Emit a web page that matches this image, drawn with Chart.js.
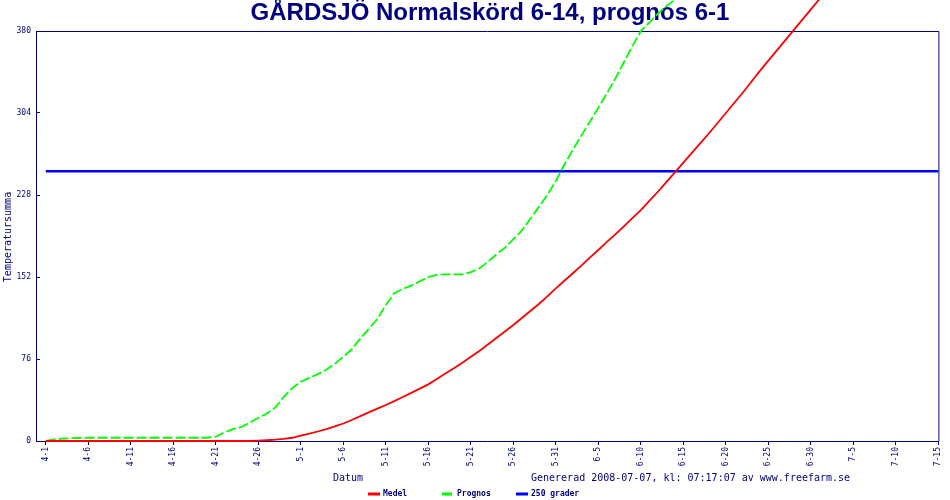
<!DOCTYPE html>
<html lang="sv">
<head>
  <meta charset="UTF-8">
  <title>GÅRDSJÖ Normalskörd</title>
  <style>
    html, body {
      margin: 0;
      padding: 0;
      background: #fff;
    }
    #chartWrapper {
      position: relative;
      width: 950px;
      height: 500px;
    }
  </style>
</head>
<body>
  <div id="chartWrapper">
    <canvas id="tempChart"></canvas>
  </div>

  <script src="https://cdn.jsdelivr.net/npm/chart.js/dist/chart.umd.min.js"></script>
  <script>
    // x = dagar efter 4-1 (dag 0 = 4-1, dag 105 = 7-15)
    const tickLabels = ['4-1', '4-6', '4-11', '4-16', '4-21', '4-26', '5-1', '5-6', '5-11', '5-16', '5-21',
      '5-26', '5-31', '6-5', '6-10', '6-15', '6-20', '6-25', '6-30', '7-5', '7-10', '7-15'];
    const yTicks = [0, 76, 152, 228, 304, 380];

    // Medel, ett värde per dag från 4-1
    const medel = [
      0, 0, 0, 0, 0, 0, 0, 0, 0, 0, 0, 0, 0, 0, 0, 0, 0, 0, 0, 0, 0, 0, 0, 0, 0,
      0.3, 0.7, 1.2, 2, 3, 5, 6.8, 8.8, 11, 13.5, 16.2, 19.5, 23, 26.5, 30,
      33.4, 37, 40.8, 44.6, 48.5, 52.5, 57.5, 62.5, 67.5, 72.5, 78, 83.5, 89.5, 95.5, 101.5,
      107.5, 114, 120.5, 127, 134, 141.5, 148.5, 155.5, 162.5, 170, 177, 184.5, 191.5, 199, 206.5,
      214, 222.5, 231, 240, 249, 258, 267, 276, 285, 294.5, 304, 313.5, 323, 333, 343,
      352.5, 362, 371.5, 381, 390.5, 400, 409.5, 419, 428.5
    ];

    // Prognos, ett värde per dag från 4-1
    const prognos = [
      0, 1.5, 2.2, 2.6, 2.8, 3, 3, 3, 3, 3, 3, 3, 3, 3, 3, 3, 3, 3, 3, 3,
      4, 8, 11, 13, 17, 21.5, 25.5, 31, 41, 49, 55, 58.5, 62, 66, 71.5, 78, 85, 95, 104, 113,
      126, 137, 141, 144, 148, 152, 154, 154.5, 154.5, 154.5, 156.5, 160, 166, 173, 179,
      187, 195, 206, 217, 228, 241, 256, 270, 283, 296, 309, 322, 336, 351, 366,
      380, 388, 396, 403, 409, 415
    ];

    // 250 grader, från 4-1 till 7-15
    const graderDagar = [0, 105];
    const graderNiva = 250;

    const TITEL = 'GÅRDSJÖ Normalskörd 6-14, prognos 6-1';
    const FOT = 'Genererad 2008-07-07, kl: 07:17:07 av www.freefarm.se';
    const NAVY = '#000080';
    const MONO = '"DejaVu Sans Mono", "Liberation Mono", monospace';

    const toPoints = arr => arr.map((v, i) => ({ x: i, y: v }));

    // ram, titel, axeltexter och förklaring
    const extraTexts = {
      id: 'extraTexts',
      beforeDatasetsDraw(chart) {
        const { ctx, chartArea: a } = chart;
        ctx.save();
        ctx.strokeStyle = NAVY;
        ctx.lineWidth = 1;
        ctx.beginPath();
        ctx.moveTo(a.left, a.top + 0.5);
        ctx.lineTo(a.right + 0.5, a.top + 0.5);
        ctx.lineTo(a.right + 0.5, a.bottom);
        ctx.stroke();

        ctx.fillStyle = NAVY;
        ctx.font = 'bold 24px "Liberation Sans", Arial, sans-serif';
        ctx.textAlign = 'center';
        ctx.textBaseline = 'alphabetic';
        ctx.fillText(TITEL, 490, 20);
        ctx.restore();
      },
      afterDraw(chart) {
        const { ctx } = chart;
        ctx.save();
        ctx.fillStyle = NAVY;
        ctx.font = '10px ' + MONO;
        ctx.textBaseline = 'middle';
        ctx.textAlign = 'left';
        ctx.fillText('Datum', 333, 478);
        ctx.fillText(FOT, 531, 478);

        ctx.save();
        ctx.translate(8, 237);
        ctx.rotate(-Math.PI / 2);
        ctx.textAlign = 'center';
        ctx.fillText('Temperatursumma', 0, 0);
        ctx.restore();

        // förklaring
        ctx.font = 'bold 8px ' + MONO;
        chart.data.datasets.forEach((ds, i) => {
          const x = 368 + i * 74;
          const y = 494;
          ctx.strokeStyle = ds.borderColor;
          ctx.lineWidth = 3;
          ctx.setLineDash(ds.borderDash || []);
          ctx.beginPath();
          ctx.moveTo(x, y);
          ctx.lineTo(x + 12, y);
          ctx.stroke();
          ctx.setLineDash([]);
          ctx.fillStyle = NAVY;
          ctx.fillText(ds.label, x + 15, y);
        });
        ctx.restore();
      }
    };

    const ctx = document.getElementById('tempChart').getContext('2d');
    new Chart(ctx, {
      type: 'line',
      data: {
        datasets: [
          {
            label: 'Medel',
            data: toPoints(medel),
            borderColor: '#ff0000',
            backgroundColor: '#ff0000',
            borderWidth: 1.8,
            pointRadius: 0,
            clip: false
          },
          {
            label: 'Prognos',
            data: toPoints(prognos),
            borderColor: '#00ff00',
            backgroundColor: '#00ff00',
            borderWidth: 1.8,
            borderDash: [10, 3],
            pointRadius: 0,
            clip: false
          },
          {
            label: '250 grader',
            data: graderDagar.map(d => ({ x: d, y: graderNiva })),
            borderColor: '#0000ff',
            backgroundColor: '#0000ff',
            borderWidth: 2.5,
            pointRadius: 0,
            clip: false
          }
        ]
      },
      options: {
        responsive: true,
        maintainAspectRatio: false,
        animation: false,
        layout: { padding: { left: 0, top: 31, right: 11, bottom: 0 } },
        plugins: {
          legend: { display: false },
          title: { display: false },
          tooltip: { enabled: false }
        },
        scales: {
          x: {
            type: 'linear',
            min: -1.15,
            max: 105,
            afterBuildTicks: scale => {
              scale.ticks = tickLabels.map((_, i) => ({ value: i * 5 }));
            },
            afterFit: scale => { scale.height = 59; },
            grid: { drawOnChartArea: false, drawTicks: true, tickLength: 4, color: NAVY },
            border: { display: true, color: NAVY, width: 1 },
            ticks: {
              autoSkip: false,
              minRotation: 90,
              maxRotation: 90,
              padding: 2,
              color: NAVY,
              font: { family: MONO, size: 8 },
              callback: v => tickLabels[Math.round(v / 5)]
            }
          },
          y: {
            min: 0,
            max: 380,
            afterBuildTicks: scale => {
              scale.ticks = yTicks.map(v => ({ value: v }));
            },
            afterFit: scale => { scale.width = 36; },
            grid: { drawOnChartArea: false, drawTicks: true, tickLength: -4, color: NAVY },
            border: { display: true, color: NAVY, width: 1 },
            ticks: {
              padding: 9,
              color: NAVY,
              font: { family: MONO, size: 8 }
            }
          }
        }
      },
      plugins: [extraTexts]
    });
  </script>
</body>
</html>
